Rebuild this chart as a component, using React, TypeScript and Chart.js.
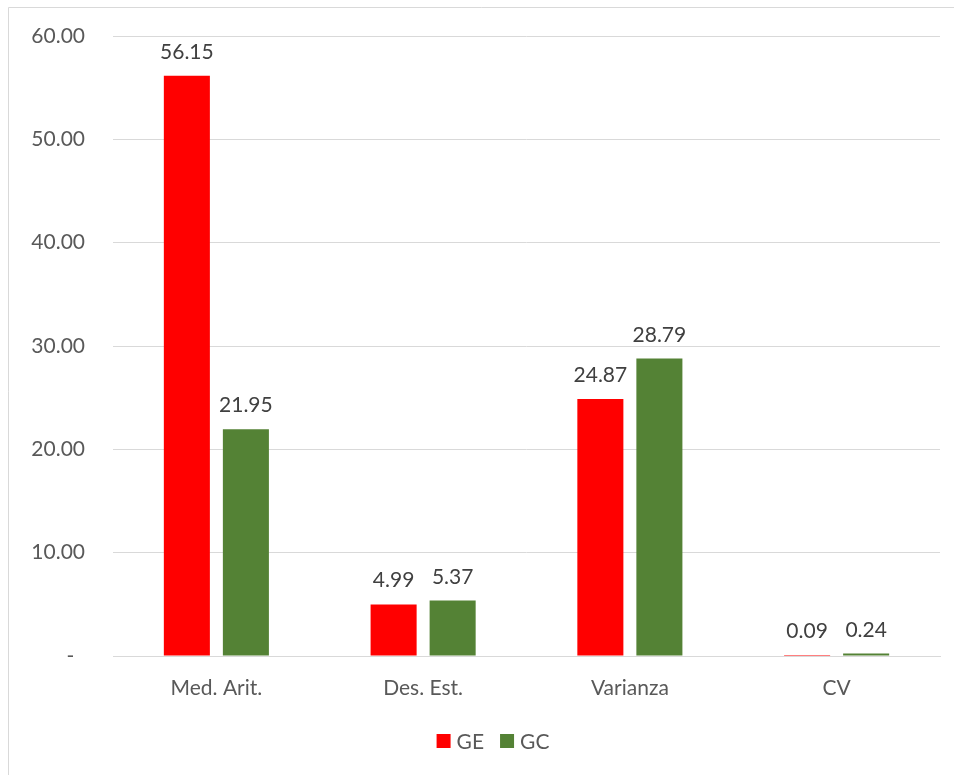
import React, { useEffect, useRef } from "react";
import { Chart, registerables } from "chart.js";

Chart.register(...registerables);

const categories = ["Med. Arit.", "Des. Est.", "Varianza", "CV"];
const seriesNames = ["GE", "GC"];
const geValues = [56.15, 4.99, 24.87, 0.09];
const gcValues = [21.95, 5.37, 28.79, 0.24];
const seriesColors = ["#FF0000", "#548235"];
const yMin = 0;
const yMax = 60;
const yStep = 10;

const FONT = "Lato, 'Open Sans', sans-serif";

const framePlugin = {
  id: "frame",
  beforeDraw(chart: any) {
    const ctx = chart.ctx;
    ctx.save();
    ctx.fillStyle = "#ffffff";
    ctx.fillRect(0, 0, chart.width, chart.height);
    ctx.strokeStyle = "#d9d9d9";
    ctx.lineWidth = 1;
    ctx.beginPath();
    ctx.moveTo(8.5, chart.height);
    ctx.lineTo(8.5, 7.5);
    ctx.lineTo(chart.width, 7.5);
    ctx.stroke();
    ctx.restore();
  },
};

const labelPlugin = {
  id: "valueLabels",
  afterDatasetsDraw(chart: any) {
    const ctx = chart.ctx;
    ctx.save();
    ctx.font = `21px ${FONT}`;
    ctx.fillStyle = "#404040";
    ctx.textAlign = "center";
    ctx.textBaseline = "alphabetic";
    chart.data.datasets.forEach((ds: any, i: number) => {
      const meta = chart.getDatasetMeta(i);
      meta.data.forEach((bar: any, j: number) => {
        const v = ds.data[j] as number;
        ctx.fillText(v.toFixed(2), bar.x, bar.y - 17);
      });
    });
    ctx.restore();
  },
};

const legendPlugin = {
  id: "bottomLegend",
  afterDraw(chart: any) {
    const ctx = chart.ctx;
    ctx.save();
    ctx.font = `21px ${FONT}`;
    ctx.textBaseline = "middle";
    ctx.textAlign = "left";
    const box = 14;
    const gap = 6;
    const itemGap = 16;
    const items = chart.data.datasets.map((ds: any) => ({
      text: ds.label as string,
      color: ds.backgroundColor as string,
      w: ctx.measureText(ds.label).width,
    }));
    const total = items.reduce((s: number, it: any, i: number) => s + box + gap + it.w + (i > 0 ? itemGap : 0), 0);
    const cy = 741;
    let x = 493 - total / 2;
    items.forEach((it: any, i: number) => {
      if (i > 0) x += itemGap;
      ctx.fillStyle = it.color;
      ctx.fillRect(x, cy - box / 2, box, box);
      x += box + gap;
      ctx.fillStyle = "#595959";
      ctx.fillText(it.text, x, cy + 1);
      x += it.w;
    });
    ctx.restore();
  },
};

export default function App() {
  const ref = useRef<HTMLCanvasElement | null>(null);

  useEffect(() => {
    if (!ref.current) return;
    const chart = new Chart(ref.current, {
      type: "bar",
      data: {
        labels: categories,
        datasets: [
          {
            label: seriesNames[0],
            data: geValues,
            backgroundColor: seriesColors[0],
            borderWidth: 0,
            categoryPercentage: 0.571,
            barPercentage: 0.78,
          },
          {
            label: seriesNames[1],
            data: gcValues,
            backgroundColor: seriesColors[1],
            borderWidth: 0,
            categoryPercentage: 0.571,
            barPercentage: 0.78,
          },
        ],
      },
      options: {
        responsive: false,
        animation: false,
        devicePixelRatio: 1,
        layout: { padding: { left: 0, right: 14, top: 36, bottom: 51 } },
        plugins: {
          legend: { display: false },
          tooltip: { enabled: false },
        },
        scales: {
          x: {
            grid: { display: false, drawTicks: false },
            border: { display: true, color: "#d9d9d9", width: 1 },
            ticks: {
              color: "#595959",
              padding: 20,
              font: { family: FONT, size: 21 },
            },
            afterFit(scale: any) {
              scale.height = 68;
            },
          },
          y: {
            min: yMin,
            max: yMax,
            grid: { color: "#d9d9d9", drawTicks: false },
            border: { display: false },
            ticks: {
              stepSize: yStep,
              padding: 28,
              color: "#595959",
              font: { family: FONT, size: 21 },
              callback: (v: any) => (Number(v) === 0 ? "-  " : Number(v).toFixed(2)),
            },
            afterFit(scale: any) {
              scale.width = 113;
              scale.paddingTop = 12;
              scale.paddingBottom = 12;
            },
          },
        },
      },
      plugins: [framePlugin, labelPlugin, legendPlugin],
    });
    return () => chart.destroy();
  }, []);

  return (
    <div style={{ position: "fixed", left: 0, top: 0, width: 954, height: 775 }}>
      <canvas ref={ref} width={954} height={775} style={{ width: 954, height: 775, display: "block" }} />
    </div>
  );
}
